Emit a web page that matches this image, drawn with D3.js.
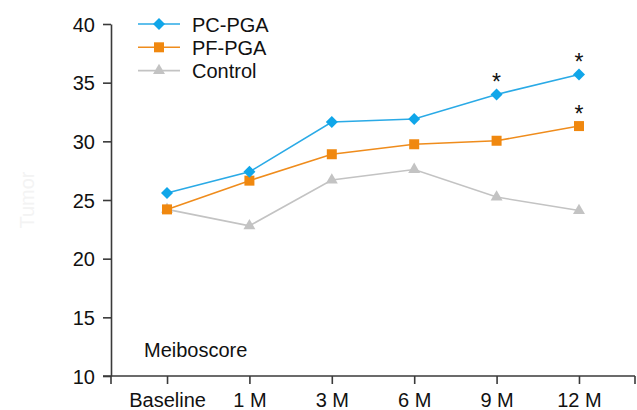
<!DOCTYPE html>
<meta charset="utf-8">
<script src="https://d3js.org/d3.v7.min.js"></script>
<style>
  body { margin: 0; background: #fff; }
  text { font-family: "Liberation Sans", Arial, sans-serif; }
</style>
<div id="chart"></div>
<script>
// data
var periods = ["Baseline", "1 M", "3 M", "6 M", "9 M", "12 M"];
var pcPga   = [25.6, 27.4, 31.65, 31.9, 34.0, 35.7];
var pfPga   = [24.2, 26.65, 28.9, 29.75, 30.05, 31.3];
var control = [24.2, 22.8, 26.7, 27.6, 25.25, 24.1];
var yTicks  = [10, 15, 20, 25, 30, 35, 40];
// significance marks: [series, index]
var stars = [["PC-PGA", 4], ["PC-PGA", 5], ["PF-PGA", 5]];

var series = [
  {name: "PC-PGA",  values: pcPga,   line: "#2aaae6", fill: "#10a6e9", shape: "diamond"},
  {name: "PF-PGA",  values: pfPga,   line: "#ef8c1c", fill: "#f0880f", shape: "square"},
  {name: "Control", values: control, line: "#c3c3c3", fill: "#c3c3c3", shape: "triangle"}
];

var W = 637, H = 410;
var svg = d3.select("#chart").append("svg")
    .attr("width", W).attr("height", H);

var x = d3.scalePoint().domain(periods).range([111, 635]).padding(0.68);
var y = d3.scaleLinear().domain([10, 40]).range([376, 24]);

var axisColor = "#3a3a3a";

// y axis
var yAxis = svg.append("g")
    .attr("transform", "translate(111,0)")
    .call(d3.axisLeft(y).tickValues(yTicks).tickSize(8).tickSizeOuter(0).tickPadding(8));
// x axis
var xAxis = svg.append("g")
    .attr("transform", "translate(0,376)")
    .call(d3.axisBottom(x).tickSize(8).tickSizeOuter(0).tickPadding(9));
// end ticks of the x axis and the little overhang to the left
xAxis.select(".domain").attr("d", "M103,0H635");
xAxis.append("line").attr("x1", 111).attr("x2", 111).attr("y1", 0).attr("y2", 8);
xAxis.append("line").attr("x1", 635).attr("x2", 635).attr("y1", 0).attr("y2", 8);

svg.selectAll(".domain, .tick line, g > line")
    .attr("stroke", axisColor).attr("stroke-width", 1.6);
svg.selectAll(".tick text")
    .attr("fill", "#111").style("font-size", "20px")
    .style("font-family", "'Liberation Sans', Arial, sans-serif");
yAxis.selectAll(".tick text").attr("dy", "0.36em");

function symFor(shape) {
  if (shape === "diamond") return d3.symbol().type(d3.symbolSquare).size(72);
  if (shape === "square") return d3.symbol().type(d3.symbolSquare).size(100);
  return d3.symbol().type(d3.symbolTriangle).size(62);
}

var line = d3.line()
    .x(function(d, i) { return x(periods[i]); })
    .y(function(d) { return y(d); });

// draw control first so it sits underneath
series.slice().reverse().forEach(function(s) {
  var g = svg.append("g");
  g.append("path")
    .attr("d", line(s.values))
    .attr("fill", "none")
    .attr("stroke", s.line)
    .attr("stroke-width", 1.6);
  g.selectAll("path.pt")
    .data(s.values)
    .enter().append("path")
    .attr("class", "pt")
    .attr("d", symFor(s.shape)())
    .attr("fill", s.fill)
    .attr("transform", function(d, i) {
      return "translate(" + x(periods[i]) + "," + y(d) + ")" + (s.shape === "diamond" ? " rotate(45)" : "");
    });
});

// asterisks
stars.forEach(function(st) {
  var s = series.find(function(d) { return d.name === st[0]; });
  svg.append("text")
    .attr("x", x(periods[st[1]]))
    .attr("y", y(s.values[st[1]]) - 4)
    .attr("text-anchor", "middle")
    .style("font-size", "23px")
    .attr("fill", "#111")
    .text("*");
});

// legend
var legend = svg.append("g");
series.forEach(function(s, i) {
  var ly = 24 + i * 23.3;
  legend.append("line")
    .attr("x1", 138).attr("x2", 180).attr("y1", ly).attr("y2", ly)
    .attr("stroke", s.line).attr("stroke-width", 1.6);
  legend.append("path")
    .attr("d", symFor(s.shape)())
    .attr("fill", s.fill)
    .attr("transform", "translate(159," + ly + ")" + (s.shape === "diamond" ? " rotate(45)" : ""));
  legend.append("text")
    .attr("x", 192).attr("y", ly + 7.5)
    .style("font-size", "20px")
    .attr("fill", "#111")
    .text(s.name);
});

// panel label
svg.append("text")
  .attr("x", 144).attr("y", 357)
  .style("font-size", "20px")
  .attr("fill", "#111")
  .text("Meiboscore");

// faint y label
svg.append("text")
  .attr("transform", "translate(34,200) rotate(-90)")
  .attr("text-anchor", "middle")
  .style("font-size", "20px")
  .attr("fill", "#f3f3f3")
  .text("Tumor");
</script>
